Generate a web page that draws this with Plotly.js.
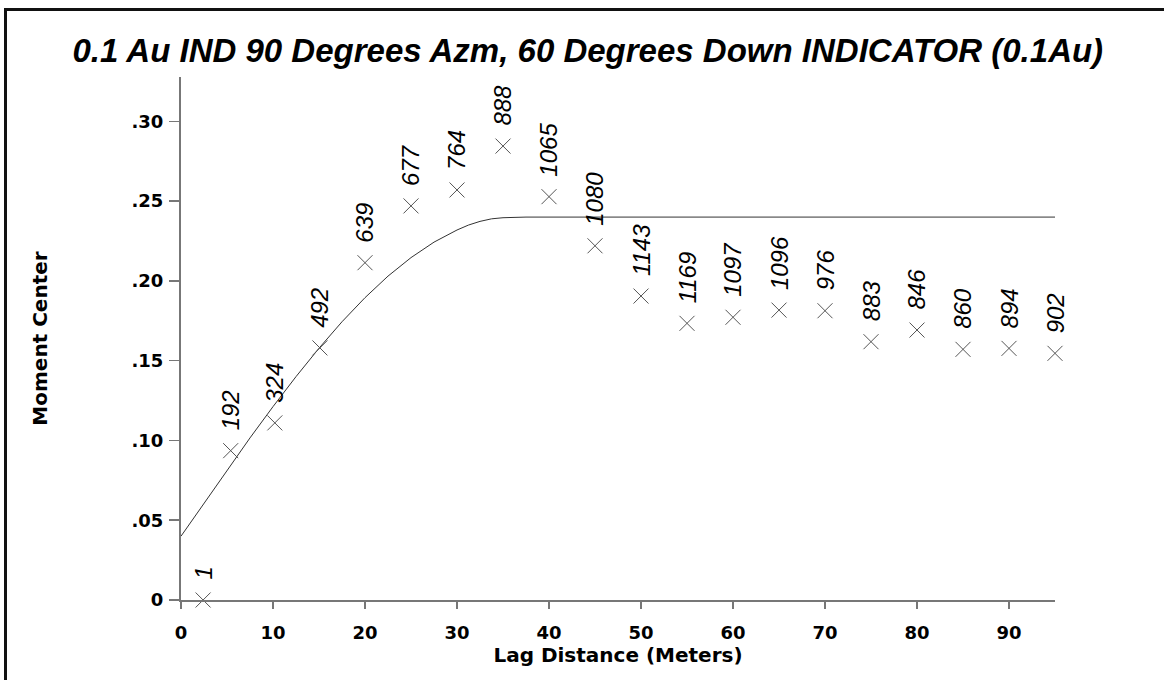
<!DOCTYPE html>
<html>
<head>
<meta charset="utf-8">
<script src="https://cdn.plot.ly/plotly-3.0.1.min.js"></script>
<style>
  html, body { margin: 0; padding: 0; background: #fff; }
  #frame { position: absolute; left: 4px; top: 8px; width: 1160px; height: 672px;
           border-top: 3px solid #111; border-left: 3px solid #111; box-sizing: border-box; }
  #chart { position: absolute; left: 0; top: 0; width: 1164px; height: 680px; }
</style>
</head>
<body>
<div id="chart"></div>
<div id="frame"></div>
<script>
// Experimental semivariogram points (lag distance, moment, pair count)
const lagDistance = [2.4, 5.4, 10.2, 15.1, 20, 25, 30, 35, 40, 45, 50, 55, 60, 65, 70, 75, 80, 85, 90, 95];
const momentCenter = [0.000, 0.0936, 0.111, 0.158, 0.2114, 0.247, 0.257, 0.2845, 0.2528, 0.222,
                      0.1905, 0.1734, 0.1772, 0.1817, 0.1813, 0.1619, 0.1692, 0.1571, 0.1577, 0.1546];
const pairCounts = ["1", "192", "324", "492", "639", "677", "764", "888", "1065", "1080",
                    "1143", "1169", "1097", "1096", "976", "883", "846", "860", "894", "902"];

// Fitted model curve
const modelX = [0, 2.5, 5, 7.5, 10, 12.5, 15, 17.5, 20, 22.5, 25, 27.5, 30, 31.25, 32.5, 33.75, 35, 36.25, 37.5, 95];
const modelY = [0.040, 0.0608, 0.0814, 0.1016, 0.1212, 0.1400, 0.1578, 0.1744, 0.1895, 0.2030,
                0.2146, 0.2243, 0.2319, 0.2350, 0.2373, 0.2389, 0.2396, 0.2399, 0.2400, 0.2400];

const xTickVals = [0, 10, 20, 30, 40, 50, 60, 70, 80, 90];
const xTickText = ["0", "10", "20", "30", "40", "50", "60", "70", "80", "90"];
const yTickVals = [0, 0.05, 0.10, 0.15, 0.20, 0.25, 0.30];
const yTickText = ["0", ".05", ".10", ".15", ".20", ".25", ".30"];

const titleText = "0.1 Au IND 90 Degrees Azm, 60 Degrees Down INDICATOR (0.1Au)";
const xTitle = "Lag Distance (Meters)";
const yTitle = "Moment Center";

const axisFont = {family: "DejaVu Sans", size: 18, color: "#000", weight: "bold"};
const axisTitleFont = {family: "DejaVu Sans", size: 20, color: "#000", weight: "bold"};

const traces = [
  {
    x: modelX, y: modelY, type: "scatter", mode: "lines",
    line: {color: "#333", width: 1}, hoverinfo: "skip", showlegend: false
  },
  {
    x: lagDistance, y: momentCenter, type: "scatter", mode: "markers",
    marker: {symbol: "x-thin-open", size: 15, color: "#555", line: {color: "#555", width: 1}},
    cliponaxis: false, showlegend: false
  }
];

const annotations = lagDistance.map((xv, i) => ({
  x: xv, y: momentCenter[i], xref: "x", yref: "y",
  text: pairCounts[i], showarrow: false, textangle: -90,
  xanchor: "center", yanchor: "bottom", yshift: 18,
  font: {family: "Liberation Sans, Arial, sans-serif", size: 24, color: "#000", style: "italic"}
}));

const layout = {
  width: 1164, height: 680,
  paper_bgcolor: "#fff", plot_bgcolor: "#fff",
  margin: {l: 181, r: 109, t: 77, b: 80, pad: 0},
  title: {
    text: "<b><i>" + titleText + "</i></b>",
    font: {family: "Liberation Sans, Arial, sans-serif", size: 33, color: "#000"},
    x: 0.505, xref: "container", xanchor: "center",
    y: 1 - 50 / 680, yref: "container", yanchor: "middle"
  },
  xaxis: {
    range: [0, 95], showgrid: false, zeroline: false,
    showline: true, linecolor: "#777", linewidth: 2,
    ticks: "outside", ticklen: 7, tickwidth: 1.5, tickcolor: "#777",
    ticklabelstandoff: 8,
    tickvals: xTickVals, ticktext: xTickText, tickfont: axisFont,
    title: {text: xTitle, font: axisTitleFont, standoff: 6}
  },
  yaxis: {
    range: [0, 0.3278], showgrid: false, zeroline: false,
    showline: true, linecolor: "#777", linewidth: 2,
    ticks: "outside", ticklen: 10, tickwidth: 1.5, tickcolor: "#777",
    ticklabelstandoff: 2,
    tickvals: yTickVals, ticktext: yTickText, tickfont: axisFont,
    title: {text: yTitle, font: axisTitleFont, standoff: 79}
  },
  annotations: annotations,
  showlegend: false
};

Plotly.newPlot("chart", traces, layout, {displayModeBar: false, staticPlot: true});
</script>
</body>
</html>
